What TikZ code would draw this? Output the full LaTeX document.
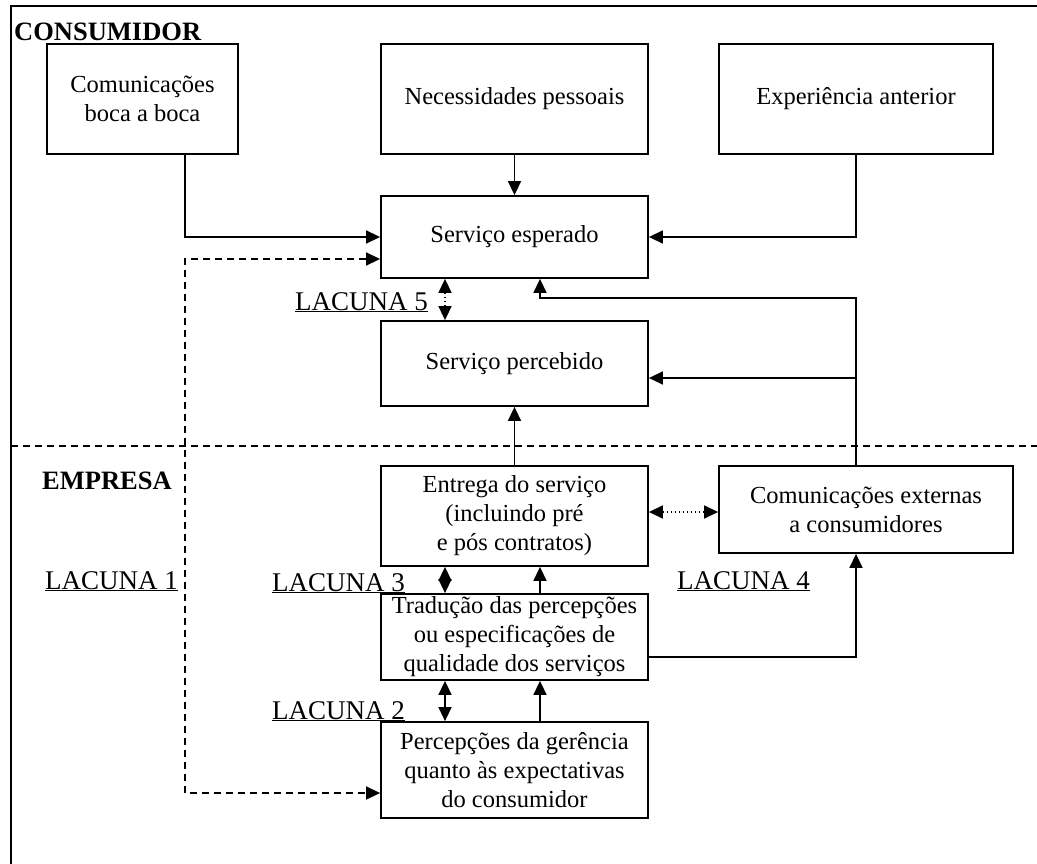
\documentclass[tikz,border=0pt]{standalone}
\usepackage{fontspec}
\setmainfont{Liberation Serif}
\usetikzlibrary{arrows.meta,calc}
\begin{document}
\begin{tikzpicture}[x=1pt,y=-1pt,
  txt/.style={font=\fontsize{24.5}{29}\selectfont},
  box/.style={draw,line width=1.8pt,align=center,inner sep=2pt,txt},
  lbl/.style={anchor=base west,inner sep=0pt,font=\fontsize{27}{31}\selectfont},
  hd/.style={anchor=base west,inner sep=0pt,font=\fontsize{26.5}{31}\selectfont\bfseries},
  arr/.style={line width=1.5pt,-{Triangle[length=14pt,width=13pt]}},
  darr/.style={line width=1.5pt,{Triangle[length=14pt,width=13pt]}-{Triangle[length=14pt,width=13pt]}},
  dashline/.style={dash pattern=on 7pt off 5pt},
  dotline/.style={dash pattern=on 1.5pt off 2.5pt}]
\useasboundingbox (0,0) rectangle (1037,864);
% outer frame and the divider between consumer and company
\draw[line width=2.8pt] (11,870) -- (11,6) -- (1045,6);
\draw[line width=1.3pt,dashline] (11,446) -- (1037,446);
\node[hd] (cons) at (14,41) {CONSUMIDOR};
\node[hd] (emp) at (42,489) {EMPRESA};
% consumer side
\node[box,minimum width=191pt,minimum height=110pt] (boca) at (142.5,99) {Comunicações\\boca a boca};
\node[box,minimum width=267pt,minimum height=110pt] (nec) at (514.5,99) {Necessidades pessoais};
\node[box,minimum width=274pt,minimum height=110pt] (exp) at (856,99) {Experiência anterior};
\node[box,minimum width=267pt,minimum height=82pt] (esp) at (514.5,237) {Serviço esperado};
\node[box,minimum width=267pt,minimum height=85pt] (perc) at (514.5,363.5) {Serviço percebido};
% company side
\node[box,minimum width=267pt,minimum height=100pt] (ent) at (514.5,516) {Entrega do serviço\\(incluindo pré\\e pós contratos)};
\node[box,minimum width=294pt,minimum height=87pt] (ext) at (866,509.5) {Comunicações externas\\a consumidores};
\node[box,minimum width=267pt,minimum height=86pt] (trad) at (514.5,637) {Tradução das percepções\\ou especificações de\\qualidade dos serviços};
\node[box,minimum width=267pt,minimum height=96pt] (ger) at (514.5,770) {Percepções da gerência\\quanto às expectativas\\do consumidor};
% gap labels
\node[lbl] (l1) at (45,589) {\underline{LACUNA 1}};
\node[lbl] (l5) at (295,310) {\underline{LACUNA 5}};
\node[lbl] (l3) at (272,591) {\underline{LACUNA 3}};
\node[lbl] (l4) at (677,589) {\underline{LACUNA 4}};
\node[lbl] (l2) at (272,719) {\underline{LACUNA 2}};
% helper points
\coordinate (bx) at ([xshift=42.5pt]boca.south);
\coordinate (ex) at (exp.south);
\coordinate (up) at ([xshift=25.5pt]esp.south);
% inputs to the expected service
\draw[arr] (bx) |- (esp.west);
\draw[arr] (nec.south) -- (esp.north);
\draw[arr] (ex) |- (esp.east);
\draw[arr] (ext.north -| ex) |- ($(up)+(0,19)$) -- (up);
\draw[arr] ([yshift=-14.5pt]perc.east -| ex) -- ([yshift=-14.5pt]perc.east);
\draw[arr] (ent.north) -- (perc.south);
% management perception loop
\coordinate (d1) at ([yshift=-22pt]esp.west);
\coordinate (d2) at ([yshift=-23pt]ger.west);
\draw[darr,dashline] (d1) -| (bx |- d2) -- (d2);
% internal chain
\draw[arr] ([xshift=25.5pt]trad.north) -- ([xshift=25.5pt]ent.south);
\draw[arr] ([xshift=25.5pt]ger.north) -- ([xshift=25.5pt]trad.south);
\draw[arr] ([yshift=-20pt]trad.east) -| (ext.south -| ex);
% gaps
\draw[darr,dotline] ([xshift=-69.5pt]esp.south) -- ([xshift=-69.5pt]perc.north);
\draw[darr] ([xshift=-69.5pt]ent.south) -- ([xshift=-69.5pt]trad.north);
\draw[darr] ([xshift=-69.5pt]trad.south) -- ([xshift=-69.5pt]ger.north);
\draw[darr,dotline] ([yshift=4pt]ent.east) -- ([yshift=4pt]ent.east -| ext.west);
\end{tikzpicture}
\end{document}
